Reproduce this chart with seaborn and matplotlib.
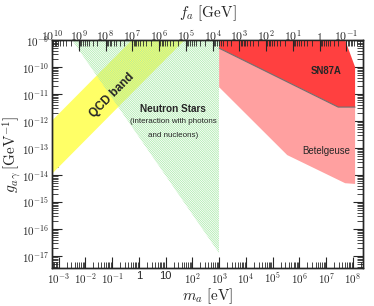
"""
Axion coupling vs mass exclusion plot (QCD band, neutron stars, SN87A, Betelgeuse).
"""
import matplotlib
matplotlib.use("Agg")
import matplotlib.pyplot as plt
import numpy as np
import seaborn as sns
from matplotlib.ticker import FixedLocator, FuncFormatter, LogLocator, NullFormatter

# axion mass in eV, coupling in GeV^-1
qcd_m = [1e-4, 1e3, 1e3, 1e-4]
qcd_g = [1.82e-13, 1.82e-6, 1.95e-8, 1.95e-15]

ns_m = [3.3e-3, 1e3, 1e3]
ns_g = [1e-9, 1e-9, 1.3e-17]

sn_m = [1e3, 1e3, 2.8e7, 1.2e8, 1.2e8, 5.1e7]
sn_g = [1e-9, 5.0e-10, 3.3e-12, 3.3e-12, 1.0e-10, 1e-9]

bg_m = [1e3, 1e3, 3.5e5, 5.1e7, 1.2e8, 1.2e8, 2.8e7]
bg_g = [5.0e-10, 1.8e-11, 5.5e-14, 5.0e-15, 4.7e-15, 3.3e-12, 3.3e-12]

# f_a [GeV] = 5.7e6 / m_a [eV]
FA_CONST = 5.7e6
m_lim = (5.7e-4, 2.4e8)
g_lim = (3.6e-18, 1e-9)
bottom_decades = list(range(-3, 9))
top_decades = list(range(-1, 11))
left_decades = list(range(-17, -8))


def _set_style():
    sns.set_theme(style="ticks")
    plt.rcParams.update({
        "font.family": ["Liberation Sans", "DejaVu Sans"],
        "mathtext.fontset": "cm",
        "hatch.linewidth": 0.5,
        "axes.linewidth": 1.0,
        "xtick.direction": "in",
        "ytick.direction": "in",
        "xtick.major.size": 8,
        "ytick.major.size": 7,
        "xtick.minor.size": 4.5,
        "ytick.minor.size": 4.5,
        "xtick.major.width": 0.8,
        "ytick.major.width": 0.8,
        "xtick.minor.width": 0.6,
        "ytick.minor.width": 0.6,
    })


def _sans_pow(k):
    if k == 0:
        return "1"
    if k == 1:
        return "10"
    return r"$\mathsf{10^{%d}}$" % k


def _serif_pow(k):
    if k == 0:
        return r"$1$"
    return r"$10^{%d}$" % k


def draw_regions(ax):
    ax.fill(qcd_m, qcd_g, color="#ffff66", lw=0, zorder=1)
    ax.fill(ns_m, ns_g, facecolor="none", edgecolor="#a6eaa6", hatch="\\" * 15,
            lw=0, zorder=2)
    ax.fill(bg_m, bg_g, color="#ffa0a0", lw=0, zorder=3)
    ax.fill(sn_m, sn_g, color="#ff4040", lw=0, zorder=4)
    ax.plot(sn_m[1:4], sn_g[1:4], color="#707070", lw=0.8, zorder=5)


def draw_labels(ax):
    ax.text(0.104, 9.1e-12, "QCD band", rotation=45, fontsize=8.5,
            fontweight="bold", ha="center", va="center", zorder=6)
    ax.text(19.5, 2.75e-12, "Neutron Stars", fontsize=7.2, fontweight="bold",
            ha="center", va="center", zorder=6)
    ax.text(19.5, 9.5e-13, "(interaction with photons", fontsize=5.8,
            ha="center", va="center", zorder=6)
    ax.text(19.0, 2.9e-13, "and nucleons)", fontsize=5.8,
            ha="center", va="center", zorder=6)
    ax.text(9.8e6, 7.2e-11, "SN87A", fontsize=6.9, fontweight="bold",
            ha="center", va="center", zorder=6)
    ax.text(1.0e7, 7.8e-14, "Betelgeuse", fontsize=6.9,
            ha="center", va="center", zorder=6)


def set_axes(ax):
    ax.set_xscale("log")
    ax.set_yscale("log")
    ax.set_xlim(*m_lim)
    ax.set_ylim(*g_lim)

    ax.xaxis.set_major_locator(FixedLocator([10.0 ** k for k in bottom_decades]))
    ax.xaxis.set_major_formatter(FuncFormatter(lambda v, p: _sans_pow(int(round(np.log10(v))))))
    ax.xaxis.set_minor_locator(LogLocator(subs=np.arange(2, 10), numticks=200))
    ax.xaxis.set_minor_formatter(NullFormatter())

    ax.yaxis.set_major_locator(FixedLocator([10.0 ** k for k in left_decades]))
    ax.yaxis.set_major_formatter(FuncFormatter(lambda v, p: _sans_pow(int(round(np.log10(v))))))
    ax.yaxis.set_minor_locator(LogLocator(subs=np.arange(2, 10), numticks=200))
    ax.yaxis.set_minor_formatter(NullFormatter())

    ax.tick_params(axis="x", which="both", direction="in", top=False, bottom=True,
                   labelsize=8, pad=2)
    ax.tick_params(axis="y", which="both", direction="in", left=True, right=True,
                   labelsize=8, pad=2)

    ax.set_xlabel(r"$m_a\ [\mathrm{eV}]$", fontsize=11, labelpad=0)
    ax.set_ylabel(r"$g_{a\,\gamma}\,[\mathrm{GeV}^{-1}]$", fontsize=11, labelpad=-1)

    top = ax.twiny()
    top.set_xscale("log")
    top.set_xlim(FA_CONST / m_lim[0], FA_CONST / m_lim[1])
    top.xaxis.set_major_locator(FixedLocator([10.0 ** k for k in top_decades]))
    top.xaxis.set_major_formatter(FuncFormatter(lambda v, p: _serif_pow(int(round(np.log10(v))))))
    top.xaxis.set_minor_locator(LogLocator(subs=np.arange(2, 10), numticks=200))
    top.xaxis.set_minor_formatter(NullFormatter())
    top.tick_params(axis="x", which="both", direction="in", top=True, bottom=False,
                    labelsize=8.5, pad=-2.8)
    top.set_xlabel(r"$f_a\ [\mathrm{GeV}]$", fontsize=11)
    top.xaxis.set_label_coords(0.5, 1.10)
    for side in top.spines.values():
        side.set_zorder(10)
    return top


def main():
    _set_style()
    fig = plt.figure(figsize=(3.74, 3.06), dpi=100)
    ax = fig.add_axes([0.139, 0.124, 0.832, 0.745])
    draw_regions(ax)
    draw_labels(ax)
    set_axes(ax)
    fig.savefig("out.png", dpi=100, facecolor="white")


if __name__ == "__main__":
    main()
